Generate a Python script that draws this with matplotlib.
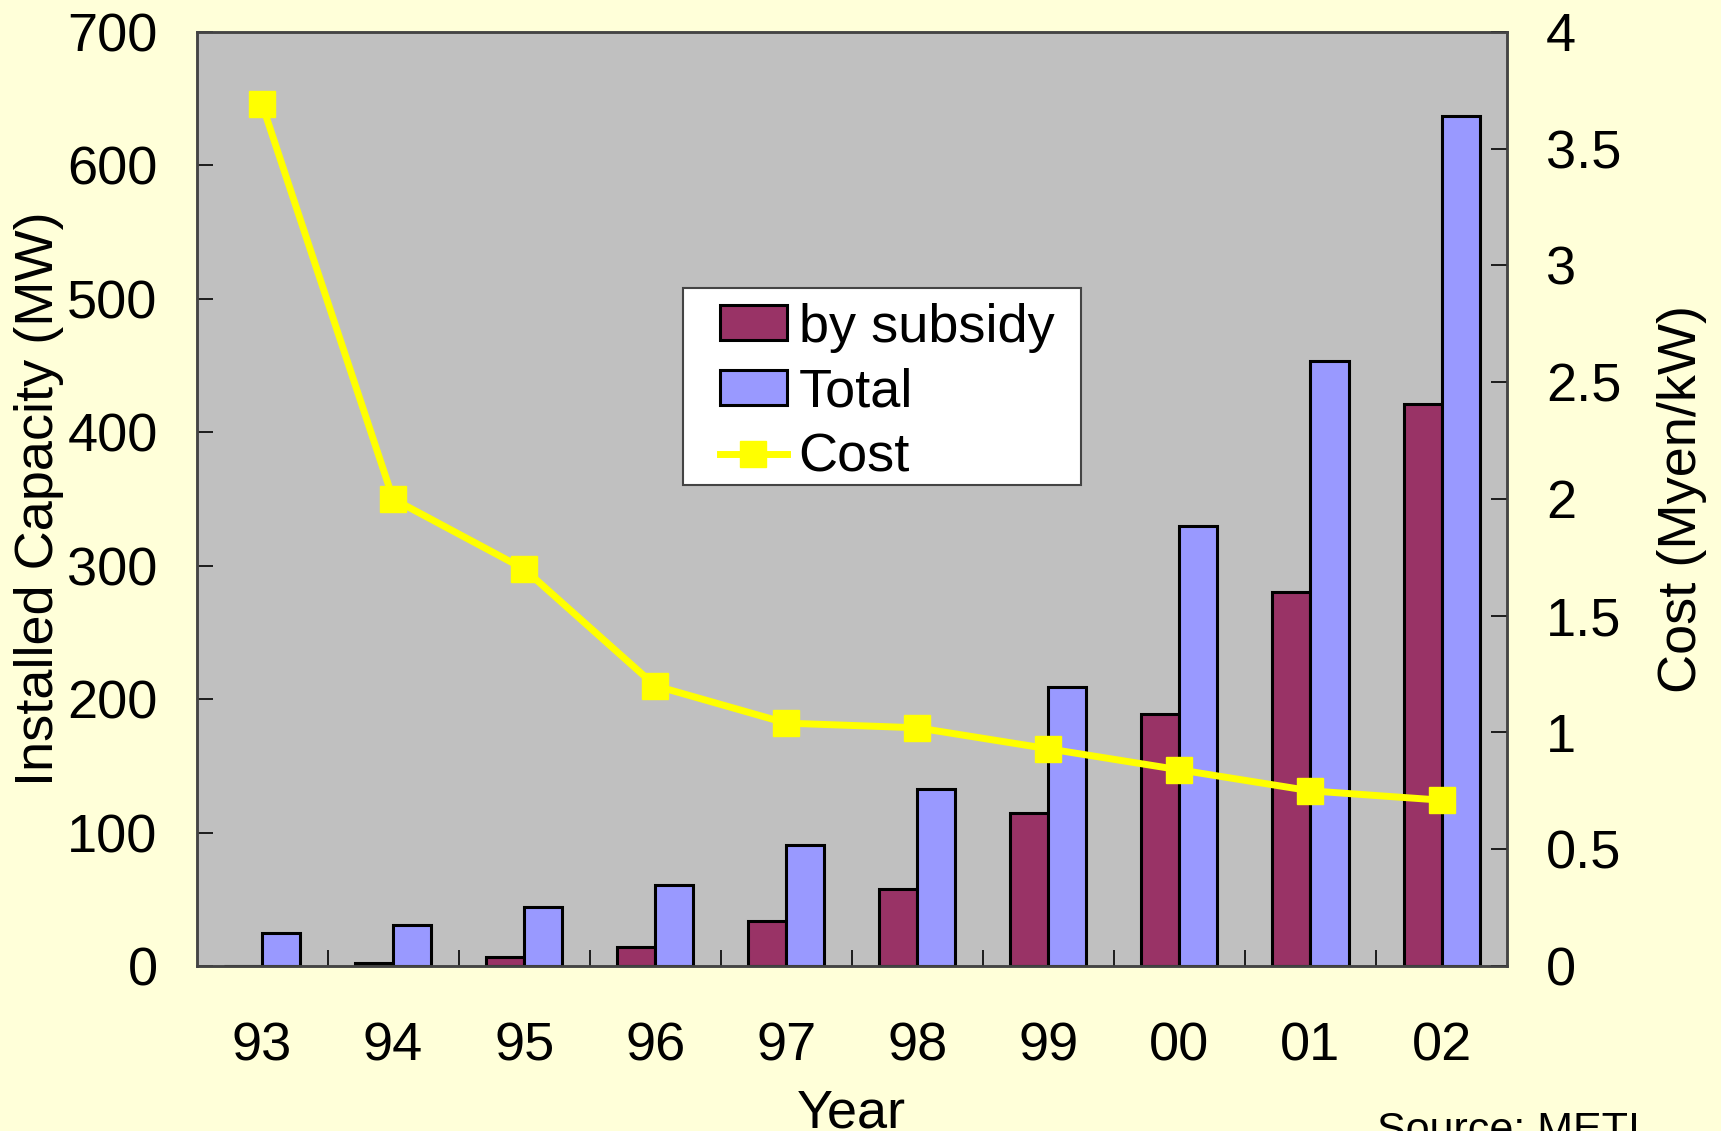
import matplotlib
matplotlib.use("Agg")
from matplotlib import pyplot as plt
from matplotlib.patches import Patch, Rectangle
from matplotlib.lines import Line2D
import numpy as np

plt.rcParams['font.family'] = ['Liberation Sans', 'DejaVu Sans']

years = ["93", "94", "95", "96", "97", "98", "99", "00", "01", "02"]
by_subsidy = [0, 2, 7, 14, 34, 58, 115, 189, 280, 421]
total = [25, 31, 44, 61, 91, 133, 209, 330, 453, 637]
cost = [3.69, 2.00, 1.70, 1.20, 1.04, 1.02, 0.93, 0.84, 0.75, 0.71]

bg = "#FFFFD9"
fs = 39

fig = plt.figure(figsize=(17.21, 11.31), dpi=100, facecolor=bg)
ax = fig.add_axes([0.1142, 0.1459, 0.7615, 0.8259])
ax.set_facecolor("#C0C0C0")

x = np.arange(len(years))
w = 0.29
ax.bar(x - w / 2, by_subsidy, width=w, color="#993366", edgecolor="black", linewidth=2.2, zorder=2)
ax.bar(x + w / 2, total, width=w, color="#9999FF", edgecolor="black", linewidth=2.2, zorder=2)

ax.set_xlim(-0.5, len(years) - 0.5)
ax.set_ylim(0, 700)
ax.set_yticks(np.arange(0, 701, 100))
ax.set_xticks(x)
ax.set_xticklabels(years)
ax.set_xticks(np.arange(0.5, len(years) - 0.5, 1), minor=True)
ax.tick_params(axis="x", which="major", length=0, pad=40, labelsize=fs)
ax.tick_params(axis="x", which="minor", direction="in", length=11.5, width=1.2)
ax.tick_params(axis="y", direction="in", length=11.5, width=1.2, pad=28, labelsize=fs)
ax.set_ylabel("Installed Capacity (MW)", fontsize=fs, labelpad=2)
ax.set_xlabel("Year", fontsize=fs, labelpad=12)
for s in ax.spines.values():
    s.set_color("#444444")
    s.set_linewidth(1.8)

# cost on the right axis
ax2 = ax.twinx()
ax2.plot(x, cost, color="#FFFF00", linewidth=5, marker="s", markersize=19,
         markerfacecolor="#FFFF00", markeredgecolor="#FFFF00", zorder=3)
ax2.set_ylim(0, 4)
ax2.set_yticks(np.arange(0, 4.01, 0.5))
ax2.set_yticklabels(["0", "0.5", "1", "1.5", "2", "2.5", "3", "3.5", "4"])
ax2.tick_params(axis="y", direction="in", length=11.5, width=1.2, pad=28, labelsize=fs)
ax2.set_ylabel("Cost (Myen/kW)", fontsize=fs, labelpad=26)
for s in ax2.spines.values():
    s.set_color("#444444")
    s.set_linewidth(1.8)

# legend box drawn separately so the inner padding can be wider than tall
box = Rectangle((0.3967, 0.5711), 0.2315, 0.1746, transform=fig.transFigure,
                facecolor="white", edgecolor="#444444", linewidth=1.5,
                zorder=4, clip_on=False)
ax2.add_patch(box)

handles = [
    Patch(facecolor="#993366", edgecolor="black", linewidth=2.2, label="by subsidy"),
    Patch(facecolor="#9999FF", edgecolor="black", linewidth=2.2, label="Total"),
    Line2D([], [], color="#FFFF00", linewidth=5, marker="s", markersize=19, label="Cost"),
]
leg = ax2.legend(handles=handles, loc="upper left", bbox_to_anchor=(0.4184, 0.7325),
                 bbox_transform=fig.transFigure, fontsize=fs, frameon=False,
                 handlelength=1.23, handleheight=0.6, handletextpad=0.22,
                 labelspacing=0.28, borderpad=0, borderaxespad=0)
leg.set_zorder(5)

fig.text(0.80, -0.0097, "Source: METI", fontsize=31, ha="left", va="baseline")

fig.savefig("out.png", dpi=100, facecolor=bg)
